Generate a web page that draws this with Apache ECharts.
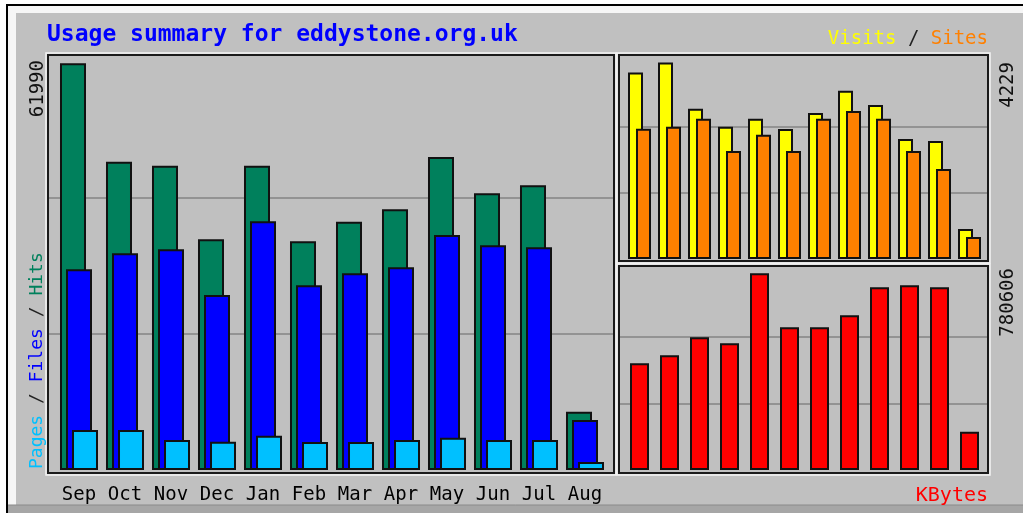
<!DOCTYPE html>
<html>
<head>
<meta charset="utf-8">
<script src="https://cdn.jsdelivr.net/npm/echarts@6/dist/echarts.min.js"></script>
<style>
  html, body { margin: 0; padding: 0; background: #fff; }
  #chart { width: 1023px; height: 513px; }
</style>
</head>
<body>
<div id="chart"></div>
<script>
// monthly figures
var months = ['Sep', 'Oct', 'Nov', 'Dec', 'Jan', 'Feb', 'Mar', 'Apr', 'May', 'Jun', 'Jul', 'Aug'];
var hits   = [61990, 46990, 46380, 35160, 46380, 34860, 37840, 39730, 47700, 42170, 43390, 8890];
var files  = [30590, 33030, 33640, 26670, 37900, 28150, 29980, 30890, 35820, 34250, 33940, 7620];
var pages  = [6100, 6100, 4570, 4310, 5230, 4270, 4270, 4570, 4920, 4570, 4570, 1220];
var visits = [4014, 4229, 3233, 2846, 3018, 2796, 3140, 3620, 3313, 2581, 2538, 645];
var sites  = [2803, 2846, 3018, 2323, 2674, 2323, 3018, 3183, 3018, 2323, 1936, 473];
var kbytes = [423400, 455200, 526600, 502800, 780606, 566300, 566300, 613900, 725000, 733000, 725000, 152000];

var chart = echarts.init(document.getElementById('chart'));

var mono = '"DejaVu Sans Mono", "Liberation Mono", monospace';
var gridColor = '#858585';
var shadow = { textShadowColor: 'rgba(60,60,60,0.55)', textShadowOffsetX: 1, textShadowOffsetY: 1, textShadowBlur: 0 };

// top of each axis, a little above the largest bar
var mainMax = 62340, visMax = 4281, kbMax = 793800;

function valueAxis(idx, max, lines) {
    return {
        type: 'value', gridIndex: idx, min: 0, max: max, interval: max / 3,
        axisLabel: { show: false }, axisLine: { show: false }, axisTick: { show: false },
        splitLine: { show: lines, showMinLine: false, showMaxLine: false,
            lineStyle: { color: gridColor, width: 1.5 } }
    };
}
function catAxis(idx, labels) {
    return {
        type: 'category', gridIndex: idx, data: months,
        axisLine: { show: false }, axisTick: { show: false },
        axisLabel: { show: labels, color: '#000', fontFamily: mono, fontSize: 19, margin: 16 }
    };
}
function bar(name, data, color, xi, width, gap) {
    var s = {
        name: name, type: 'bar', data: data, xAxisIndex: xi, yAxisIndex: xi,
        barWidth: width, animation: false,
        itemStyle: { color: color, borderColor: '#111', borderWidth: 2 }
    };
    if (gap) s.barGap = gap;
    return s;
}
function frame(l, t, r, b) {
    return [
        { type: 'rect', shape: { x: l - 2, y: t - 2, width: r - l + 4, height: b - t + 4 },
          style: { fill: null, stroke: '#f4f4f4', lineWidth: 1.5 } },
        { type: 'rect', shape: { x: l, y: t, width: r - l, height: b - t },
          style: { fill: null, stroke: '#1a1a1a', lineWidth: 2 } }
    ];
}

var graphics = [
    { type: 'rect', shape: { x: 0, y: 0, width: 16, height: 505 }, style: { fill: '#f6f6f6' } },
    { type: 'rect', shape: { x: 0, y: 0, width: 1023, height: 13 }, style: { fill: '#f6f6f6' } },
    { type: 'rect', shape: { x: 0, y: 0, width: 6, height: 513 }, style: { fill: '#fff' } },
    { type: 'rect', shape: { x: 0, y: 0, width: 1023, height: 4 }, style: { fill: '#fff' } },
    { type: 'rect', shape: { x: 8, y: 505, width: 1015, height: 8 }, style: { fill: '#a6a6a6' } },
    { type: 'line', shape: { x1: 8, y1: 505, x2: 1023, y2: 505 }, style: { stroke: '#8a8a8a', lineWidth: 1 } },
    { type: 'line', shape: { x1: 7, y1: 4, x2: 7, y2: 513 }, style: { stroke: '#000', lineWidth: 2 } },
    { type: 'line', shape: { x1: 6, y1: 5, x2: 1023, y2: 5 }, style: { stroke: '#000', lineWidth: 2 } }
];
graphics = graphics.concat(frame(48, 55, 614, 473), frame(619, 55, 988, 261), frame(619, 266, 988, 473));

graphics.push(
    { type: 'text', x: 47, y: 35,
      style: { text: 'Usage summary for eddystone.org.uk', fill: '#0000ff',
               font: 'bold 23px ' + mono, verticalAlign: 'middle', align: 'left' } },
    { type: 'text', x: 988, y: 39,
      style: Object.assign({ text: '{v|Visits}{k| / }{s|Sites}', align: 'right', verticalAlign: 'middle',
               font: '19px ' + mono,
               rich: { v: { fill: '#ffff00', font: '19px ' + mono },
                       k: { fill: '#222', font: '19px ' + mono },
                       s: { fill: '#ff8000', font: '19px ' + mono } } }, shadow) },
    { type: 'text', x: 988, y: 496,
      style: Object.assign({ text: 'KBytes', fill: '#ff0000', font: '20px ' + mono,
               align: 'right', verticalAlign: 'middle' }, shadow) },
    { type: 'text', x: 37, y: 469, rotation: Math.PI / 2,
      style: Object.assign({ text: '{p|Pages}{k| / }{f|Files}{k| / }{h|Hits}', align: 'left', verticalAlign: 'middle',
               font: '18px ' + mono,
               rich: { p: { fill: '#00c0ff', font: '18px ' + mono },
                       k: { fill: '#222', font: '18px ' + mono },
                       f: { fill: '#0000ff', font: '18px ' + mono },
                       h: { fill: '#00805c', font: '18px ' + mono } } }, shadow) },
    { type: 'text', x: 38, y: 60, rotation: Math.PI / 2,
      style: { text: String(Math.max.apply(null, hits)), fill: '#111', font: '19px ' + mono,
               align: 'right', verticalAlign: 'middle' } },
    { type: 'text', x: 1008, y: 62, rotation: Math.PI / 2,
      style: { text: String(Math.max.apply(null, visits)), fill: '#111', font: '19px ' + mono,
               align: 'right', verticalAlign: 'middle' } },
    { type: 'text', x: 1008, y: 268, rotation: Math.PI / 2,
      style: { text: String(Math.max.apply(null, kbytes)), fill: '#111', font: '19px ' + mono,
               align: 'right', verticalAlign: 'middle' } }
);

var option = {
    backgroundColor: '#c0c0c0',
    animation: false,
    grid: [
        // bar areas
        { left: 56, top: 61, width: 552, height: 409 },
        { left: 624.5, top: 60, width: 360, height: 199 },
        { left: 624.5, top: 270, width: 360, height: 200 },
        // same heights, full panel width, only for the grid lines
        { left: 49, top: 61, width: 564, height: 409 },
        { left: 620, top: 60, width: 367, height: 199 },
        { left: 620, top: 270, width: 367, height: 200 }
    ],
    xAxis: [catAxis(0, true), catAxis(1, false), catAxis(2, false),
            catAxis(3, false), catAxis(4, false), catAxis(5, false)],
    yAxis: [valueAxis(0, mainMax, false), valueAxis(1, visMax, false), valueAxis(2, kbMax, false),
            valueAxis(3, mainMax, true), valueAxis(4, visMax, true), valueAxis(5, kbMax, true)],
    graphic: { elements: graphics },
    series: [
        bar('Hits', hits, '#00805c', 0, 26, '-76.9%'),
        bar('Files', files, '#0000ff', 0, 26, '-76.9%'),
        bar('Pages', pages, '#00c0ff', 0, 26, '-76.9%'),
        bar('Visits', visits, '#ffff00', 1, 15, '-46.7%'),
        bar('Sites', sites, '#ff8000', 1, 15, '-46.7%'),
        bar('KBytes', kbytes, '#ff0000', 2, 19)
    ]
};

chart.setOption(option);
</script>
</body>
</html>
